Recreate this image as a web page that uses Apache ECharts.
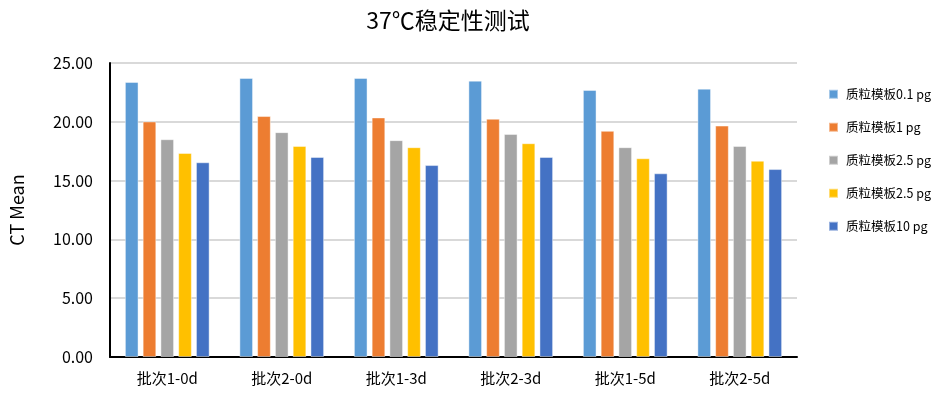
<!DOCTYPE html>
<html>
<head>
<meta charset="utf-8">
<script src="https://cdn.jsdelivr.net/npm/echarts@6/dist/echarts.min.js"></script>
<style>
  html, body { margin: 0; padding: 0; background: #fff; }
  #chart { width: 945px; height: 399px; }
</style>
</head>
<body>
<div id="chart"></div>
<script>
// ============ 数据 ============
const categories = ['批次1-0d', '批次2-0d', '批次1-3d', '批次2-3d', '批次1-5d', '批次2-5d']
const seriesNames = ['质粒模板0.1 pg', '质粒模板1 pg', '质粒模板2.5 pg', '质粒模板2.5 pg ', '质粒模板10 pg']
const s01 = [23.39, 23.73, 23.73, 23.50, 22.71, 22.82]
const s1 = [20.03, 20.49, 20.37, 20.26, 19.23, 19.68]
const s25a = [18.52, 19.12, 18.44, 18.97, 17.84, 17.95]
const s25b = [17.35, 17.95, 17.84, 18.18, 16.90, 16.69]
const s10 = [16.56, 17.01, 16.32, 17.01, 15.62, 15.98]
const seriesData = [s01, s1, s25a, s25b, s10]

// ============ 颜色 ============
const COLORS = ['#5B9BD5', '#ED7D31', '#A5A5A5', '#FFC000', '#4472C4']
const FONT = '"Noto Sans CJK SC", "Open Sans", sans-serif'

const chart = echarts.init(document.getElementById('chart'))

chart.setOption({
  animation: false,
  color: COLORS,
  title: {
    text: '37℃稳定性测试',
    left: 443,
    textAlign: 'center',
    top: 4,
    textStyle: { fontFamily: FONT, fontSize: 23, fontWeight: 'normal', color: '#000' }
  },
  legend: {
    orient: 'vertical',
    left: 823,
    top: 83,
    itemWidth: 9,
    itemHeight: 9,
    itemGap: 20.5,
    icon: 'rect',
    textStyle: { fontFamily: FONT, fontSize: 12.5, color: '#000', padding: [0, 0, 0, 3] },
    data: seriesNames
  },
  grid: { left: 110, right: 148, top: 63, bottom: 42 },
  xAxis: {
    type: 'category',
    data: categories,
    axisLine: { lineStyle: { color: '#000', width: 2 } },
    axisTick: { show: false },
    axisLabel: { fontFamily: FONT, fontSize: 15, color: '#000', margin: 14 }
  },
  yAxis: {
    type: 'value',
    name: 'CT Mean',
    nameLocation: 'middle',
    nameGap: 84,
    nameTextStyle: { fontFamily: FONT, fontSize: 18, color: '#000' },
    min: 0,
    max: 25,
    interval: 5,
    axisLine: { show: true, lineStyle: { color: '#000', width: 2 } },
    axisTick: { show: false },
    axisLabel: {
      fontFamily: FONT, fontSize: 16, color: '#000', margin: 17,
      formatter: v => v.toFixed(2)
    },
    splitLine: { lineStyle: { color: '#d9d9d9', width: 2 } }
  },
  series: seriesNames.map((name, i) => ({
    name,
    type: 'bar',
    data: seriesData[i],
    barGap: '30%',
    barCategoryGap: '26%',
    itemStyle: { borderColor: 'rgba(255,255,255,0.45)', borderWidth: 1 }
  }))
})
</script>
</body>
</html>
